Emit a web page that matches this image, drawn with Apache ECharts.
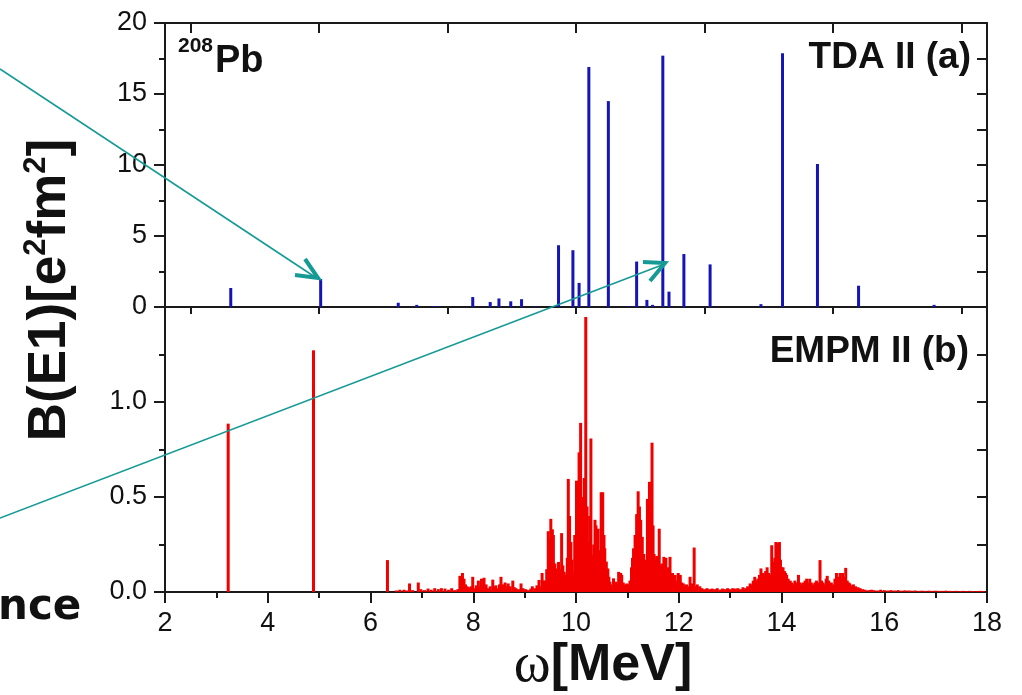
<!DOCTYPE html>
<html><head><meta charset="utf-8">
<script src="https://cdn.jsdelivr.net/npm/echarts@6.0.0/dist/echarts.min.js"></script>
<style>html,body{margin:0;padding:0;background:#fff}#c{width:1022px;height:695px}</style>
</head><body><div id="c"></div>
<script>
// ---- TDA II (a) : B(E1) strengths [e^2 fm^2] at energies [MeV]
const tdaEnergy = [3.28,5.03,6.54,6.90,7.22,7.32,7.99,8.33,8.50,8.73,8.94,9.20,9.66,9.94,10.06,10.25,10.63,11.03,11.18,11.38,11.49,11.69,11.81,12.10,12.61,13.60,14.02,14.70,15.50,16.97];
const tdaB      = [1.34,1.97,0.30,0.15,0.05,0.04,0.70,0.35,0.60,0.40,0.55,0.05,4.35,4.00,1.70,16.9,14.5,0.05,3.20,0.50,0.15,17.7,1.08,3.73,3.00,0.20,17.87,10.07,1.50,0.15];

// ---- EMPM II (b)
const empmEnergy = [3.23,4.89,6.33,6.50,6.57,6.65,6.70,6.76,6.82,6.93,6.98,7.05,7.12,7.18,7.25,7.32,7.38,7.45,7.52,7.58,7.64,7.70,7.74,7.77,7.79,7.82,7.85,7.88,7.92,7.96,7.99,8.03,8.06,8.10,8.13,8.16,8.19,8.21,8.25,8.29,8.33,8.38,8.41,8.44,8.48,8.51,8.54,8.58,8.62,8.65,8.68,8.72,8.77,8.80,8.83,8.88,8.93,8.97,9.02,9.07,9.12,9.15,9.20,9.24,9.28,9.31,9.34,9.37,9.40,9.43,9.46,9.49,9.51,9.54,9.56,9.59,9.61,9.64,9.66,9.69,9.72,9.745,9.77,9.80,9.83,9.85,9.875,9.90,9.925,9.95,9.975,10.01,10.035,10.06,10.09,10.11,10.13,10.16,10.19,10.215,10.24,10.265,10.29,10.32,10.345,10.37,10.39,10.41,10.43,10.46,10.49,10.52,10.545,10.56,10.59,10.62,10.64,10.66,10.69,10.73,10.755,10.78,10.80,10.83,10.85,10.87,10.89,10.92,10.95,10.99,11.02,11.05,11.08,11.10,11.12,11.15,11.18,11.21,11.235,11.26,11.29,11.32,11.34,11.36,11.39,11.41,11.43,11.455,11.48,11.50,11.52,11.545,11.57,11.595,11.62,11.645,11.67,11.69,11.71,11.73,11.75,11.775,11.80,11.83,11.855,11.88,11.905,11.93,11.96,11.99,12.01,12.03,12.06,12.09,12.12,12.15,12.18,12.22,12.24,12.26,12.30,12.33,12.36,12.41,12.45,12.50,12.55,12.60,12.65,12.70,12.75,12.80,12.85,12.90,12.95,13.00,13.05,13.10,13.15,13.20,13.25,13.30,13.34,13.39,13.42,13.45,13.48,13.51,13.54,13.57,13.60,13.63,13.66,13.69,13.72,13.75,13.78,13.81,13.83,13.85,13.87,13.89,13.91,13.935,13.96,13.98,14.00,14.03,14.06,14.08,14.10,14.13,14.17,14.20,14.23,14.26,14.29,14.33,14.36,14.39,14.42,14.46,14.49,14.52,14.55,14.58,14.61,14.65,14.68,14.72,14.75,14.78,14.81,14.84,14.87,14.89,14.92,14.95,14.97,15.00,15.04,15.07,15.10,15.14,15.17,15.19,15.22,15.25,15.28,15.31,15.33,15.37,15.40,15.44,15.49,15.53,15.58,15.63,15.70,15.75,15.80,15.87,15.93,16.00,16.07,16.13,16.20,16.27,16.33,16.40,16.47,16.53,16.60,16.67,16.73,16.80,16.87,16.93,17.00,17.07,17.13,17.20,17.27,17.33,17.40,17.47,17.53,17.60,17.67,17.73,17.80,17.87,17.93];
const empmB = [0.886,1.272,0.168,0.008,0.012,0.012,0.008,0.045,0.010,0.050,0.015,0.010,0.018,0.012,0.020,0.015,0.020,0.018,0.012,0.020,0.010,0.015,0.085,0.070,0.100,0.070,0.040,0.030,0.025,0.030,0.080,0.020,0.035,0.060,0.030,0.070,0.040,0.075,0.040,0.020,0.030,0.065,0.030,0.035,0.020,0.040,0.080,0.040,0.050,0.030,0.045,0.030,0.060,0.025,0.020,0.015,0.045,0.020,0.015,0.010,0.018,0.030,0.020,0.035,0.063,0.030,0.100,0.060,0.060,0.120,0.320,0.280,0.385,0.330,0.300,0.150,0.124,0.100,0.158,0.120,0.310,0.140,0.106,0.090,0.180,0.595,0.400,0.263,0.170,0.106,0.300,0.586,0.440,0.735,0.890,0.500,0.350,0.600,1.447,0.450,0.263,0.400,0.808,0.194,0.250,0.380,0.350,0.250,0.333,0.220,0.525,0.525,0.300,0.230,0.160,0.124,0.080,0.054,0.040,0.072,0.040,0.054,0.040,0.106,0.070,0.100,0.090,0.050,0.040,0.045,0.040,0.060,0.130,0.180,0.230,0.300,0.410,0.530,0.450,0.380,0.290,0.200,0.170,0.150,0.490,0.400,0.580,0.450,0.786,0.350,0.200,0.170,0.190,0.150,0.333,0.140,0.150,0.120,0.185,0.130,0.180,0.110,0.130,0.185,0.100,0.100,0.070,0.090,0.060,0.100,0.060,0.090,0.050,0.045,0.030,0.040,0.030,0.080,0.030,0.045,0.234,0.030,0.040,0.030,0.020,0.015,0.020,0.015,0.018,0.015,0.020,0.012,0.018,0.015,0.020,0.015,0.020,0.018,0.020,0.015,0.025,0.020,0.030,0.045,0.040,0.060,0.080,0.060,0.070,0.090,0.124,0.100,0.090,0.110,0.130,0.100,0.090,0.246,0.160,0.140,0.180,0.263,0.260,0.220,0.263,0.170,0.130,0.130,0.110,0.100,0.090,0.070,0.060,0.050,0.040,0.060,0.050,0.090,0.050,0.040,0.050,0.060,0.070,0.050,0.070,0.050,0.040,0.050,0.060,0.050,0.168,0.060,0.050,0.040,0.070,0.085,0.060,0.040,0.050,0.040,0.070,0.100,0.080,0.100,0.070,0.100,0.080,0.127,0.060,0.050,0.045,0.035,0.040,0.030,0.025,0.020,0.015,0.012,0.010,0.012,0.010,0.008,0.012,0.010,0.008,0.010,0.008,0.010,0.007,0.009,0.008,0.007,0.008,0.006,0.007,0.006,0.007,0.006,0.007,0.006,0.006,0.007,0.006,0.005,0.006,0.005,0.006,0.005,0.006,0.005,0.005,0.006,0.005];

// ---- tick values
const topPanelXTicks = [2.5,5,7.5,10,12.5,15,17.5];

const chart = echarts.init(document.getElementById('c'), null, {renderer:'canvas'});
const ink = '#1a1a1a';
const teal = '#169a96';
const axisLine = {show:true, onZero:false, lineStyle:{color:ink, width:2}};
const tickStyle = {color:ink, width:2};
const labelFont = {fontFamily:'Liberation Sans', fontSize:27, color:'#111'};
const pair = (xs, ys) => xs.map((x,i)=>[x, ys[i]]);

const option = {
  animation:false,
  backgroundColor:'#fff',
  grid:[
    {left:165, right:35, top:23, height:284, outerBoundsMode:'none'},
    {left:165, right:35, top:307, height:285, outerBoundsMode:'none'}
  ],
  xAxis:[
    {gridIndex:0, type:'value', min:2, max:18, position:'bottom', axisLine,
     axisLabel:{show:false}, splitLine:{show:false},
     axisTick:{show:true, inside:false, length:7, customValues:topPanelXTicks, lineStyle:tickStyle}},
    {gridIndex:0, type:'value', min:2, max:18, position:'top', axisLine,
     axisLabel:{show:false}, splitLine:{show:false},
     axisTick:{show:true, inside:true, length:10, customValues:topPanelXTicks, lineStyle:tickStyle}},
    {gridIndex:1, type:'value', min:2, max:18, interval:2, position:'bottom', axisLine,
     axisLabel:{...labelFont, margin:18}, splitLine:{show:false},
     axisTick:{show:true, inside:false, length:11, lineStyle:tickStyle},
     minorTick:{show:true, splitNumber:2, length:6, lineStyle:tickStyle}, minorSplitLine:{show:false}}
  ],
  yAxis:[
    {gridIndex:0, type:'value', min:0, max:20, interval:5, position:'left', axisLine,
     axisLabel:{...labelFont, margin:18}, splitLine:{show:false},
     axisTick:{show:true, inside:false, length:11, lineStyle:tickStyle},
     minorTick:{show:true, splitNumber:2, length:6, lineStyle:tickStyle}},
    {gridIndex:0, type:'value', min:0, max:20, interval:2.5, position:'right', axisLine,
     axisLabel:{show:false}, splitLine:{show:false},
     axisTick:{show:true, inside:true, length:10, lineStyle:tickStyle}},
    {gridIndex:1, type:'value', min:0, max:1.5, interval:0.5, position:'left', axisLine,
     axisLabel:{...labelFont, margin:18, formatter:v => v >= 1.5 ? '' : v.toFixed(1)}, splitLine:{show:false},
     axisTick:{show:true, inside:false, length:11, lineStyle:tickStyle},
     minorTick:{show:true, splitNumber:2, length:6, lineStyle:tickStyle}},
    {gridIndex:1, type:'value', min:0, max:1.5, interval:0.25, position:'right', axisLine,
     axisLabel:{show:false}, splitLine:{show:false},
     axisTick:{show:true, inside:true, length:10, lineStyle:tickStyle}}
  ],
  series:[
    {name:'TDA II', type:'bar', xAxisIndex:0, yAxisIndex:0, barWidth:3,
     itemStyle:{color:'#1414b8'}, data:pair(tdaEnergy, tdaB), silent:true},
    {name:'EMPM II', type:'bar', xAxisIndex:2, yAxisIndex:2, barWidth:3,
     itemStyle:{color:'#f20000'}, data:pair(empmEnergy, empmB), silent:true}
  ],
  graphic:[
    {type:'text', x:178, y:46, z:50, style:{text:'208', fontFamily:'Liberation Sans', fontWeight:'bold', fontSize:21, fill:'#111', verticalAlign:'middle'}},
    {type:'text', x:215, y:62, z:50, style:{text:'Pb', fontFamily:'Liberation Sans', fontWeight:'bold', fontSize:38, fill:'#111', verticalAlign:'middle'}},
    {type:'text', x:971, y:58, z:50, style:{text:'TDA II (a)', fontFamily:'Liberation Sans', fontWeight:'bold', fontSize:37, fill:'#111', align:'right', verticalAlign:'middle'}},
    {type:'text', x:969, y:352, z:50, style:{text:'EMPM II (b)', fontFamily:'Liberation Sans', fontWeight:'bold', fontSize:37, fill:'#111', align:'right', verticalAlign:'middle'}},
    {type:'text', x:50, y:290, rotation:Math.PI/2, z:50, style:{
      text:'{a|B(E1)[e}{s|2}{a|fm}{s|2}{a|]}', align:'center', verticalAlign:'middle',
      rich:{a:{fontFamily:'Liberation Sans', fontWeight:'bold', fontSize:53, lineHeight:58, fill:'#111'},
            s:{fontFamily:'Liberation Sans', fontWeight:'bold', fontSize:31, lineHeight:31, verticalAlign:'top', fill:'#111'}}}},
    {type:'text', x:603, y:666, z:50, style:{
      text:'{w|ω}{m|[MeV]}', align:'center', verticalAlign:'middle',
      rich:{w:{fontFamily:'Liberation Serif', fontSize:56, fill:'#111'},
            m:{fontFamily:'Liberation Sans', fontWeight:'bold', fontSize:52, fill:'#111'}}}},
    {type:'text', x:-2, y:608, z:50, style:{text:'nce', fontFamily:'DejaVu Sans', fontWeight:'bold', fontSize:42, fill:'#111', verticalAlign:'middle'}},
    {type:'line', z:100, shape:{x1:0, y1:69, x2:315, y2:277}, style:{stroke:teal, lineWidth:1.6}},
    {type:'polyline', z:100, shape:{points:[[295,275],[318,278],[305,259]]}, style:{stroke:teal, lineWidth:4, fill:null}},
    {type:'line', z:100, shape:{x1:0, y1:518, x2:662, y2:265}, style:{stroke:teal, lineWidth:1.6}},
    {type:'polyline', z:100, shape:{points:[[643,262],[665,263],[650,281]]}, style:{stroke:teal, lineWidth:4, fill:null}}
  ]
};
chart.setOption(option);
</script></body></html>
